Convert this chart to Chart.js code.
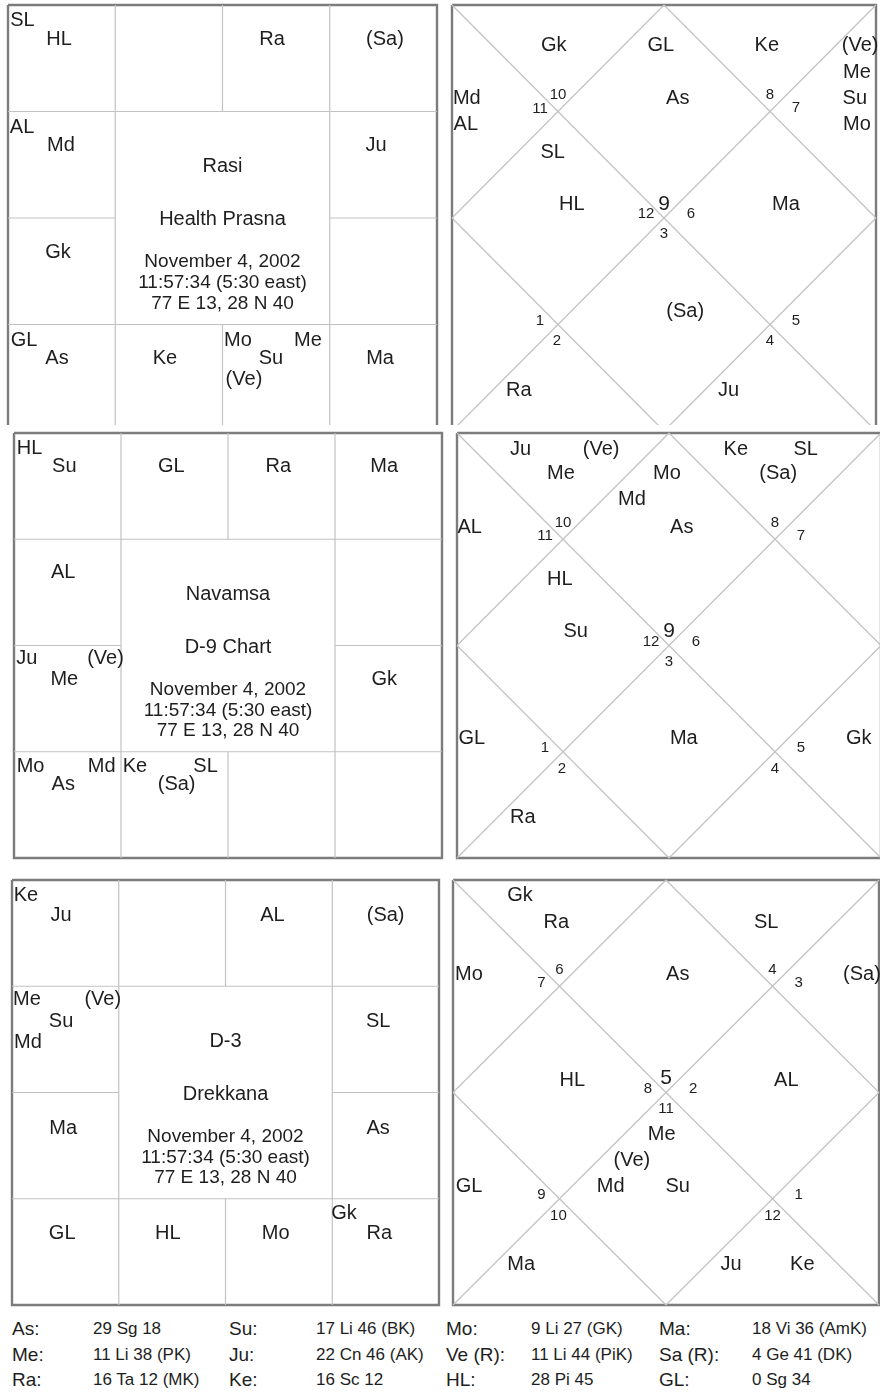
<!DOCTYPE html>
<html>
<head>
<meta charset="utf-8">
<script src="https://cdn.jsdelivr.net/npm/chart.js@4.4.1/dist/chart.umd.min.js"></script>
<style>
  html, body { margin: 0; padding: 0; background: #fff; overflow: hidden; }
  body { position: relative; width: 880px; height: 1395px; }
  #row1 { position: absolute; left: 0; top: 0; width: 880px; height: 425px; overflow: hidden; }
  #rest { position: absolute; left: 0; top: 0; width: 880px; height: 1395px; }
  .cell { position: absolute; font-family: "Liberation Sans", Arial, sans-serif; color: #1e1e1e;
          white-space: nowrap; line-height: 20px; }
  .lab { font-size: 19px; }
  .val { font-size: 17px; }
</style>
</head>
<body>
<div id="rest"></div>
<div id="row1"></div>
<div id="table"></div>
<script>
// Rasi / Navamsa / Drekkana — South (left) and North (right) style charts
// chart units: 0..4 across and down each square

// ---- data ----------------------------------------------------
const RASI_TITLE = ['Rasi', 'Health Prasna'];
const NAV_TITLE  = ['Navamsa', 'D-9 Chart'];
const D3_TITLE   = ['D-3', 'Drekkana'];
const BIRTH_LINES = ['November 4, 2002', '11:57:34 (5:30 east)', '77 E 13, 28 N 40'];

// [label, x, y] in chart units
const RASI_SOUTH = [
  ['SL', 0.135, 0.13], ['HL', 0.476, 0.305], ['Ra', 2.462, 0.305], ['(Sa)', 3.515, 0.31],
  ['AL', 0.131, 1.136], ['Md', 0.494, 1.305], ['Ju', 3.431, 1.305],
  ['Gk', 0.466, 2.31],
  ['GL', 0.149, 3.136], ['As', 0.457, 3.305], ['Ke', 1.464, 3.305],
  ['Mo', 2.144, 3.136], ['Me', 2.797, 3.136], ['Su', 2.452, 3.305], ['(Ve)', 2.2, 3.502],
  ['Ma', 3.469, 3.305],
];
const RASI_NORTH = [
  ['Gk', 0.96, 0.366], ['GL', 1.97, 0.366], ['Ke', 2.97, 0.366],
  ['(Ve)', 3.85, 0.366], ['Me', 3.82, 0.62], ['Su', 3.8, 0.864], ['Mo', 3.82, 1.108],
  ['Md', 0.14, 0.864], ['AL', 0.13, 1.108], ['As', 2.13, 0.864],
  ['SL', 0.95, 1.37], ['HL', 1.13, 1.86], ['Ma', 3.15, 1.86],
  ['(Sa)', 2.2, 2.864], ['Ra', 0.63, 3.606], ['Ju', 2.61, 3.606],
];
const NAV_SOUTH = [
  ['HL', 0.145, 0.13], ['Su', 0.47, 0.30], ['GL', 1.47, 0.30], ['Ra', 2.47, 0.30], ['Ma', 3.46, 0.30],
  ['AL', 0.46, 1.30],
  ['Ju', 0.12, 2.11], ['(Ve)', 0.855, 2.11], ['Me', 0.47, 2.30], ['Gk', 3.46, 2.30],
  ['Mo', 0.155, 3.12], ['Md', 0.82, 3.12], ['As', 0.46, 3.29],
  ['Ke', 1.13, 3.12], ['SL', 1.79, 3.12], ['(Sa)', 1.52, 3.29],
];
const NAV_NORTH = [
  ['Ju', 0.60, 0.14], ['(Ve)', 1.36, 0.14], ['Ke', 2.63, 0.14], ['SL', 3.29, 0.14],
  ['Me', 0.98, 0.37], ['Mo', 1.98, 0.37], ['(Sa)', 3.03, 0.37], ['Md', 1.65, 0.61],
  ['AL', 0.12, 0.87], ['As', 2.12, 0.87],
  ['HL', 0.97, 1.36], ['Su', 1.12, 1.85],
  ['GL', 0.14, 2.86], ['Ma', 2.14, 2.86], ['Gk', 3.79, 2.86],
  ['Ra', 0.62, 3.6],
];
const D3_SOUTH = [
  ['Ke', 0.13, 0.13], ['Ju', 0.46, 0.32], ['AL', 2.44, 0.32], ['(Sa)', 3.5, 0.32],
  ['Me', 0.14, 1.11], ['(Ve)', 0.85, 1.11], ['Su', 0.46, 1.32], ['Md', 0.15, 1.51], ['SL', 3.43, 1.32],
  ['Ma', 0.48, 2.32], ['As', 3.43, 2.32],
  ['GL', 0.47, 3.31], ['HL', 1.46, 3.31], ['Mo', 2.47, 3.31], ['Gk', 3.11, 3.12], ['Ra', 3.44, 3.31],
];
const D3_NORTH = [
  ['Gk', 0.63, 0.13], ['Ra', 0.97, 0.38], ['SL', 2.94, 0.38],
  ['Mo', 0.15, 0.875], ['As', 2.11, 0.875], ['(Sa)', 3.84, 0.875],
  ['HL', 1.12, 1.87], ['AL', 3.13, 1.87],
  ['Me', 1.96, 2.38], ['(Ve)', 1.68, 2.62], ['Md', 1.48, 2.87], ['Su', 2.11, 2.87],
  ['GL', 0.15, 2.87],
  ['Ma', 0.64, 3.6], ['Ju', 2.61, 3.6], ['Ke', 3.28, 3.6],
];

// sign number shown in houses 1..12 of the north charts
const RASI_HOUSE_SIGNS = [9, 10, 11, 12, 1, 2, 3, 4, 5, 6, 7, 8];
const NAV_HOUSE_SIGNS  = [9, 10, 11, 12, 1, 2, 3, 4, 5, 6, 7, 8];
const D3_HOUSE_SIGNS   = [5, 6, 7, 8, 9, 10, 11, 12, 1, 2, 3, 4];

const TABLE_LABELS = [
  ['As:', 'Su:', 'Mo:', 'Ma:'],
  ['Me:', 'Ju:', 'Ve (R):', 'Sa (R):'],
  ['Ra:', 'Ke:', 'HL:', 'GL:'],
];
const TABLE_VALUES = [
  ['29 Sg 18', '17 Li 46 (BK)', '9 Li 27 (GK)', '18 Vi 36 (AmK)'],
  ['11 Li 38 (PK)', '22 Cn 46 (AK)', '11 Li 44 (PiK)', '4 Ge 41 (DK)'],
  ['16 Ta 12 (MK)', '16 Sc 12', '28 Pi 45', '0 Sg 34'],
];

// ---- layout / style ------------------------------------------
const PAD = 6;
const INK = '#1e1e1e';
const GRID = '#c2c2c2';
const EDGE = '#7c7c7c';
const FONT = '"Liberation Sans", Arial, sans-serif';

const SOUTH_LINES = [
  [1, 0, 1, 4], [3, 0, 3, 4], [2, 0, 2, 1], [2, 3, 2, 4],
  [0, 1, 4, 1], [0, 3, 4, 3], [0, 2, 1, 2], [3, 2, 4, 2],
];
const NORTH_LINES = [
  [0, 0, 4, 4], [4, 0, 0, 4],
  [2, 0, 4, 2], [4, 2, 2, 4], [2, 4, 0, 2], [0, 2, 2, 0],
];
// where each house number sits (house 1 first)
const HOUSE_SLOTS = [
  [2.0, 1.85], [1.0, 0.836], [0.83, 0.96], [1.83, 1.953], [0.83, 2.95], [0.99, 3.146],
  [2.0, 2.14], [3.0, 3.146], [3.245, 2.95], [2.255, 1.953], [3.245, 0.958], [3.0, 0.836],
];
const TITLE_Y = [1.5, 2.0];
const BIRTH_Y = [2.4, 2.595, 2.79];

// text is placed by its cap-height centre
const textPlugin = {
  id: 'chartText',
  afterDatasetsDraw(chart) {
    const ctx = chart.ctx;
    chart.data.datasets.forEach((ds, i) => {
      if (!ds.texts) return;
      const meta = chart.getDatasetMeta(i);
      ctx.save();
      ctx.font = ds.textSize + 'px ' + FONT;
      ctx.fillStyle = INK;
      ctx.textAlign = 'center';
      ctx.textBaseline = 'alphabetic';
      const dy = ds.textSize * 0.358;
      meta.data.forEach((pt, j) => ctx.fillText(ds.texts[j], pt.x, pt.y + dy));
      ctx.restore();
    });
  }
};

function lineSet(s, color, width) {
  return {
    data: s.map(p => ({ x: p[0], y: p[1] })),
    showLine: true, borderColor: color, borderWidth: width,
    pointRadius: 0, clip: false, borderJoinStyle: 'miter',
  };
}
function textSet(items, size) {
  return {
    data: items.map(t => ({ x: t[1], y: t[2] })),
    texts: items.map(t => t[0]),
    textSize: size,
    showLine: false, pointRadius: 0, clip: false,
  };
}

function panel(parent, box, lines, groups) {
  const c = document.createElement('canvas');
  c.width = box.w + 2 * PAD;
  c.height = box.h + 2 * PAD;
  c.style.cssText = `position:absolute;left:${box.x - PAD}px;top:${box.y - PAD}px;` +
    `width:${c.width}px;height:${c.height}px`;
  parent.appendChild(c);

  const datasets = lines.map(s => lineSet([[s[0], s[1]], [s[2], s[3]]], GRID, 1.2));
  datasets.push(lineSet([[0, 0], [4, 0], [4, 4], [0, 4], [0, 0]], EDGE, 2.4));
  groups.forEach(g => datasets.push(textSet(g.items, g.size)));

  return new Chart(c, {
    type: 'scatter',
    data: { datasets },
    options: {
      responsive: false, animation: false, events: [],
      layout: { padding: PAD },
      scales: {
        x: { type: 'linear', min: 0, max: 4, display: false },
        y: { type: 'linear', min: 0, max: 4, reverse: true, display: false },
      },
      plugins: { legend: { display: false }, tooltip: { enabled: false } },
    },
    plugins: [textPlugin],
  });
}

function southChart(parent, box, planets, title) {
  const centre = title.map((t, i) => [t, 2, TITLE_Y[i]])
    .concat(BIRTH_LINES.map((t, i) => [t, 2, BIRTH_Y[i]]));
  return panel(parent, box, SOUTH_LINES, [
    { items: planets, size: 20 },
    { items: centre.slice(0, 2), size: 20 },
    { items: centre.slice(2), size: 19 },
  ]);
}

function northChart(parent, box, planets, signs) {
  const nums = signs.map((n, i) => [String(n), HOUSE_SLOTS[i][0], HOUSE_SLOTS[i][1]]);
  return panel(parent, box, NORTH_LINES, [
    { items: planets, size: 20 },
    { items: nums.slice(0, 1), size: 21 },
    { items: nums.slice(1), size: 15 },
  ]);
}

function table() {
  const t = document.getElementById('table');
  const LAB_X = [12, 229, 446, 659];
  const VAL_X = [93, 316, 531, 752];
  const ROW_Y = [1329, 1355, 1380];
  TABLE_LABELS.forEach((row, r) => {
    row.forEach((lab, c) => {
      const a = document.createElement('div');
      a.className = 'cell lab';
      a.style.left = LAB_X[c] + 'px';
      a.style.top = (ROW_Y[r] - 10) + 'px';
      a.textContent = lab;
      t.appendChild(a);
      const v = document.createElement('div');
      v.className = 'cell val';
      v.style.left = VAL_X[c] + 'px';
      v.style.top = (ROW_Y[r] - 10) + 'px';
      v.textContent = TABLE_VALUES[r][c];
      t.appendChild(v);
    });
  });
}

function init() {
  const row1 = document.getElementById('row1');
  const rest = document.getElementById('rest');
  southChart(row1, { x: 8, y: 5, w: 429, h: 426 }, RASI_SOUTH, RASI_TITLE);
  northChart(row1, { x: 452, y: 5, w: 424, h: 426 }, RASI_NORTH, RASI_HOUSE_SIGNS);
  southChart(rest, { x: 13.5, y: 433, w: 428, h: 425 }, NAV_SOUTH, NAV_TITLE);
  northChart(rest, { x: 457, y: 433, w: 424, h: 425 }, NAV_NORTH, NAV_HOUSE_SIGNS);
  southChart(rest, { x: 12, y: 880, w: 427, h: 425 }, D3_SOUTH, D3_TITLE);
  northChart(rest, { x: 453, y: 880, w: 426, h: 425 }, D3_NORTH, D3_HOUSE_SIGNS);
  table();
}

init();
</script>
</body>
</html>
